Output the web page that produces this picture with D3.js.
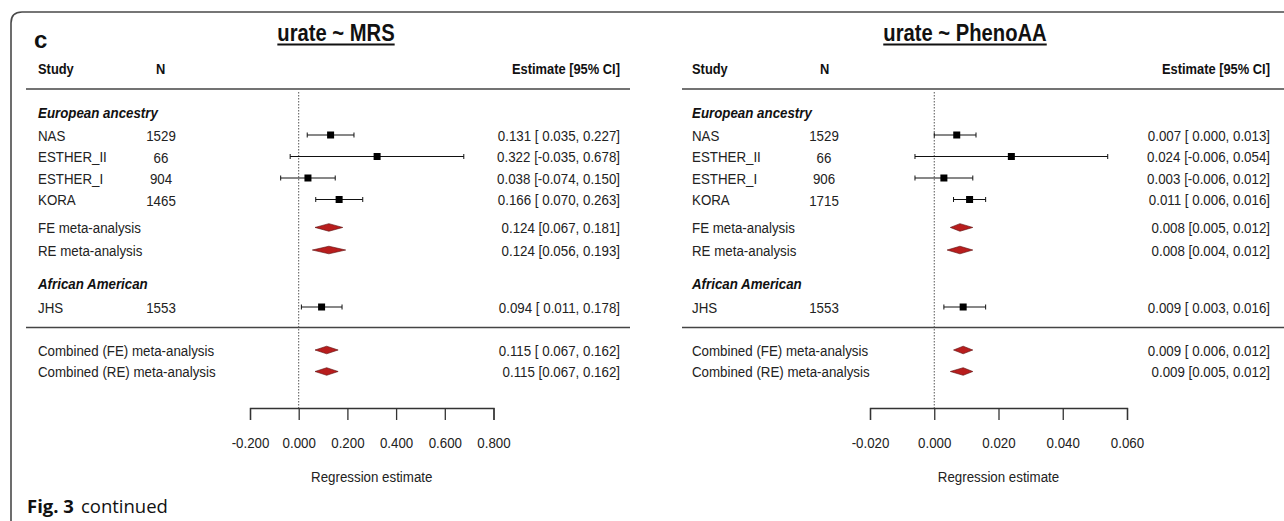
<!DOCTYPE html>
<html>
<head>
<meta charset="utf-8">
<script src="https://cdn.jsdelivr.net/npm/d3@7"></script>
<style>
  body { margin: 0; background: #fff; }
  svg { display: block; font-family: "Liberation Sans", Arial, sans-serif; }
</style>
</head>
<body>
<div id="chart"></div>
<script>
// rows shared by both forest plots
var studies = ["NAS", "ESTHER_II", "ESTHER_I", "KORA", "FE meta-analysis", "RE meta-analysis",
               "JHS", "Combined (FE) meta-analysis", "Combined (RE) meta-analysis"];
var isMeta = [false, false, false, false, true, true, false, true, true];
var groups = ["European ancestry", "African American"];

// urate ~ MRS
var mrsN = [1529, 66, 904, 1465, null, null, 1553, null, null];
var mrsEst = [0.131, 0.322, 0.038, 0.166, 0.124, 0.124, 0.094, 0.115, 0.115];
var mrsLo = [0.035, -0.035, -0.074, 0.070, 0.067, 0.056, 0.011, 0.067, 0.067];
var mrsHi = [0.227, 0.678, 0.150, 0.263, 0.181, 0.193, 0.178, 0.162, 0.162];
var mrsText = ["0.131 [ 0.035, 0.227]", "0.322 [-0.035, 0.678]", "0.038 [-0.074, 0.150]",
               "0.166 [ 0.070, 0.263]", "0.124 [0.067, 0.181]", "0.124 [0.056, 0.193]",
               "0.094 [ 0.011, 0.178]", "0.115 [ 0.067, 0.162]", "0.115 [0.067, 0.162]"];
var mrsTicks = [-0.2, 0, 0.2, 0.4, 0.6, 0.8];

// urate ~ PhenoAA
var phenoN = [1529, 66, 906, 1715, null, null, 1553, null, null];
var phenoEst = [0.007, 0.024, 0.003, 0.011, 0.008, 0.008, 0.009, 0.009, 0.009];
var phenoLo = [0.000, -0.006, -0.006, 0.006, 0.005, 0.004, 0.003, 0.006, 0.005];
var phenoHi = [0.013, 0.054, 0.012, 0.016, 0.012, 0.012, 0.016, 0.012, 0.012];
var phenoText = ["0.007 [ 0.000, 0.013]", "0.024 [-0.006, 0.054]", "0.003 [-0.006, 0.012]",
                 "0.011 [ 0.006, 0.016]", "0.008 [0.005, 0.012]", "0.008 [0.004, 0.012]",
                 "0.009 [ 0.003, 0.016]", "0.009 [ 0.006, 0.012]", "0.009 [0.005, 0.012]"];
var phenoTicks = [-0.02, 0, 0.02, 0.04, 0.06];

// layout: row slots (in row units) for studies, group headers and separator
var rowSlot = [0, 1, 2, 3, 4.3, 5.35, 8, 10, 11];
var groupSlot = [-1.05, 6.9];
var sepSlot = 8.95;
var y = d3.scaleLinear().domain([0, 1]).range([135, 156.5]);

var narrow = 0.86;   // the original uses a condensed face
var width = 1284, height = 521;
var svg = d3.select("#chart").append("svg")
   .attr("width", width)
   .attr("height", height);

// condensed text helper
function ntext(g, x, y, txt, size, opts) {
   opts = opts || {};
   return g.append("text")
      .attr("transform", "translate(" + x + "," + y + ") scale(" + narrow + ",1)")
      .attr("text-anchor", opts.anchor || "start")
      .attr("font-size", size)
      .attr("font-weight", opts.weight || "normal")
      .attr("font-style", opts.style || "normal")
      .attr("fill", opts.fill || "#222")
      .text(txt);
}

// frame of the figure (top + left edge, rounded corner)
svg.append("path")
   .attr("d", "M11,521 L11,23 Q11,12 22,12 L1284,12")
   .attr("fill", "none")
   .attr("stroke", "#4a4a4a")
   .attr("stroke-width", 1.6);

svg.append("text")
   .attr("x", 34).attr("y", 48)
   .attr("font-size", 24).attr("font-weight", "bold")
   .attr("fill", "#111")
   .text("c");

svg.append("text")
   .attr("x", 27).attr("y", 513)
   .attr("font-family", "'Open Sans', 'Noto Sans', sans-serif")
   .attr("font-size", 18.5)
   .attr("fill", "#111")
   .call(function (t) {
      t.append("tspan").attr("font-weight", "bold").text("Fig. 3");
      t.append("tspan").attr("dx", 7).text("continued");
   });

function drawPanel(p) {
   var g = svg.append("g");
   var x = d3.scaleLinear().domain(p.domain).range(p.range);

   // title with underline
   var title = ntext(g, p.titleX, 41, p.title, 23.5, {anchor: "middle", weight: "bold", fill: "#111"});
   var tw = title.node().getBBox().width * narrow;
   g.append("line")
      .attr("x1", p.titleX - tw / 2).attr("x2", p.titleX + tw / 2)
      .attr("y1", 44.5).attr("y2", 44.5)
      .attr("stroke", "#111").attr("stroke-width", 1.8);

   // header
   ntext(g, p.labelX, 74, "Study", 15, {weight: "bold", fill: "#111"});
   ntext(g, p.nHeadX, 74, "N", 15, {weight: "bold", fill: "#111"});
   ntext(g, p.estX, 74, "Estimate [95% CI]", 15, {anchor: "end", weight: "bold", fill: "#111"});

   // horizontal rules
   [89, y(sepSlot)].forEach(function (ly) {
      g.append("line")
         .attr("x1", p.lineX[0]).attr("x2", p.lineX[1])
         .attr("y1", ly).attr("y2", ly)
         .attr("stroke", "#444").attr("stroke-width", 1.4);
   });

   // reference line at zero
   g.append("line")
      .attr("x1", x(0)).attr("x2", x(0))
      .attr("y1", 92).attr("y2", 408)
      .attr("stroke", "#555").attr("stroke-width", 1)
      .attr("stroke-dasharray", "1.5,1.5");

   // group headers
   groups.forEach(function (d, i) {
      ntext(g, p.labelX, y(groupSlot[i]) + 5.5, d, 15.5, {weight: "bold", style: "italic", fill: "#111"});
   });

   var rows = studies.map(function (s, i) {
      return {name: s, n: p.n[i], est: p.est[i], lo: p.lo[i], hi: p.hi[i],
              txt: p.text[i], meta: isMeta[i], y: y(rowSlot[i])};
   });

   // text columns
   rows.forEach(function (d) {
      ntext(g, p.labelX, d.y + 5.5, d.name, 15.5);
      if (d.n !== null) ntext(g, p.nX, d.y + 6, d.n, 15.5, {anchor: "middle"});
      ntext(g, p.estX, d.y + 5.5, d.txt, 15.5, {anchor: "end"});
   });

   var r = g.selectAll(".mark").data(rows).enter().append("g");

   // study estimates: CI line with caps and square
   var st = r.filter(function (d) { return !d.meta; });
   st.append("line")
      .attr("x1", function (d) { return x(d.lo); })
      .attr("x2", function (d) { return x(d.hi); })
      .attr("y1", function (d) { return d.y; }).attr("y2", function (d) { return d.y; })
      .attr("stroke", "#111").attr("stroke-width", 1);
   ["lo", "hi"].forEach(function (k) {
      st.append("line")
         .attr("x1", function (d) { return x(d[k]); })
         .attr("x2", function (d) { return x(d[k]); })
         .attr("y1", function (d) { return d.y - 2.5; })
         .attr("y2", function (d) { return d.y + 2.5; })
         .attr("stroke", "#111").attr("stroke-width", 1);
   });
   st.append("rect")
      .attr("x", function (d) { return x(d.est) - 3.5; })
      .attr("y", function (d) { return d.y - 3.5; })
      .attr("width", 7).attr("height", 7)
      .attr("fill", "#000");

   // pooled estimates: diamonds
   r.filter(function (d) { return d.meta; }).append("path")
      .attr("d", function (d) {
         return "M" + x(d.lo) + "," + d.y + "L" + x(d.est) + "," + (d.y - 3.8) +
                "L" + x(d.hi) + "," + d.y + "L" + x(d.est) + "," + (d.y + 3.8) + "Z";
      })
      .attr("fill", "#b81d1d")
      .attr("stroke", "#5a0c0c").attr("stroke-width", 0.6);

   // x axis
   var fmt = d3.format(".3f");
   var axis = d3.axisBottom(x)
      .tickValues(p.ticks)
      .tickSize(12)
      .tickSizeOuter(12)
      .tickPadding(17)
      .tickFormat(function (d) { return fmt(d).replace("\u2212", "-"); });
   var ax = g.append("g")
      .attr("transform", "translate(0,408)")
      .call(axis);
   ax.selectAll("path, line").attr("stroke", "#333").attr("stroke-width", 1.3);
   ax.selectAll("text")
      .attr("font-size", 15.5)
      .attr("font-family", "'Liberation Sans', Arial, sans-serif")
      .attr("transform", "scale(" + narrow + ",1)")
      .attr("fill", "#222");

   ntext(g, (p.range[0] + p.range[1]) / 2, 482, "Regression estimate", 15.5, {anchor: "middle"});
}

drawPanel({
   title: "urate ~ MRS", titleX: 336,
   labelX: 38, nHeadX: 156, nX: 161, estX: 620, lineX: [26, 630],
   domain: [-0.2, 0.8], range: [250, 493.5], ticks: mrsTicks,
   n: mrsN, est: mrsEst, lo: mrsLo, hi: mrsHi, text: mrsText
});
drawPanel({
   title: "urate ~ PhenoAA", titleX: 965,
   labelX: 692, nHeadX: 820, nX: 824, estX: 1270, lineX: [682, 1284],
   domain: [-0.02, 0.06], range: [870, 1127], ticks: phenoTicks,
   n: phenoN, est: phenoEst, lo: phenoLo, hi: phenoHi, text: phenoText
});
</script>
</body>
</html>
